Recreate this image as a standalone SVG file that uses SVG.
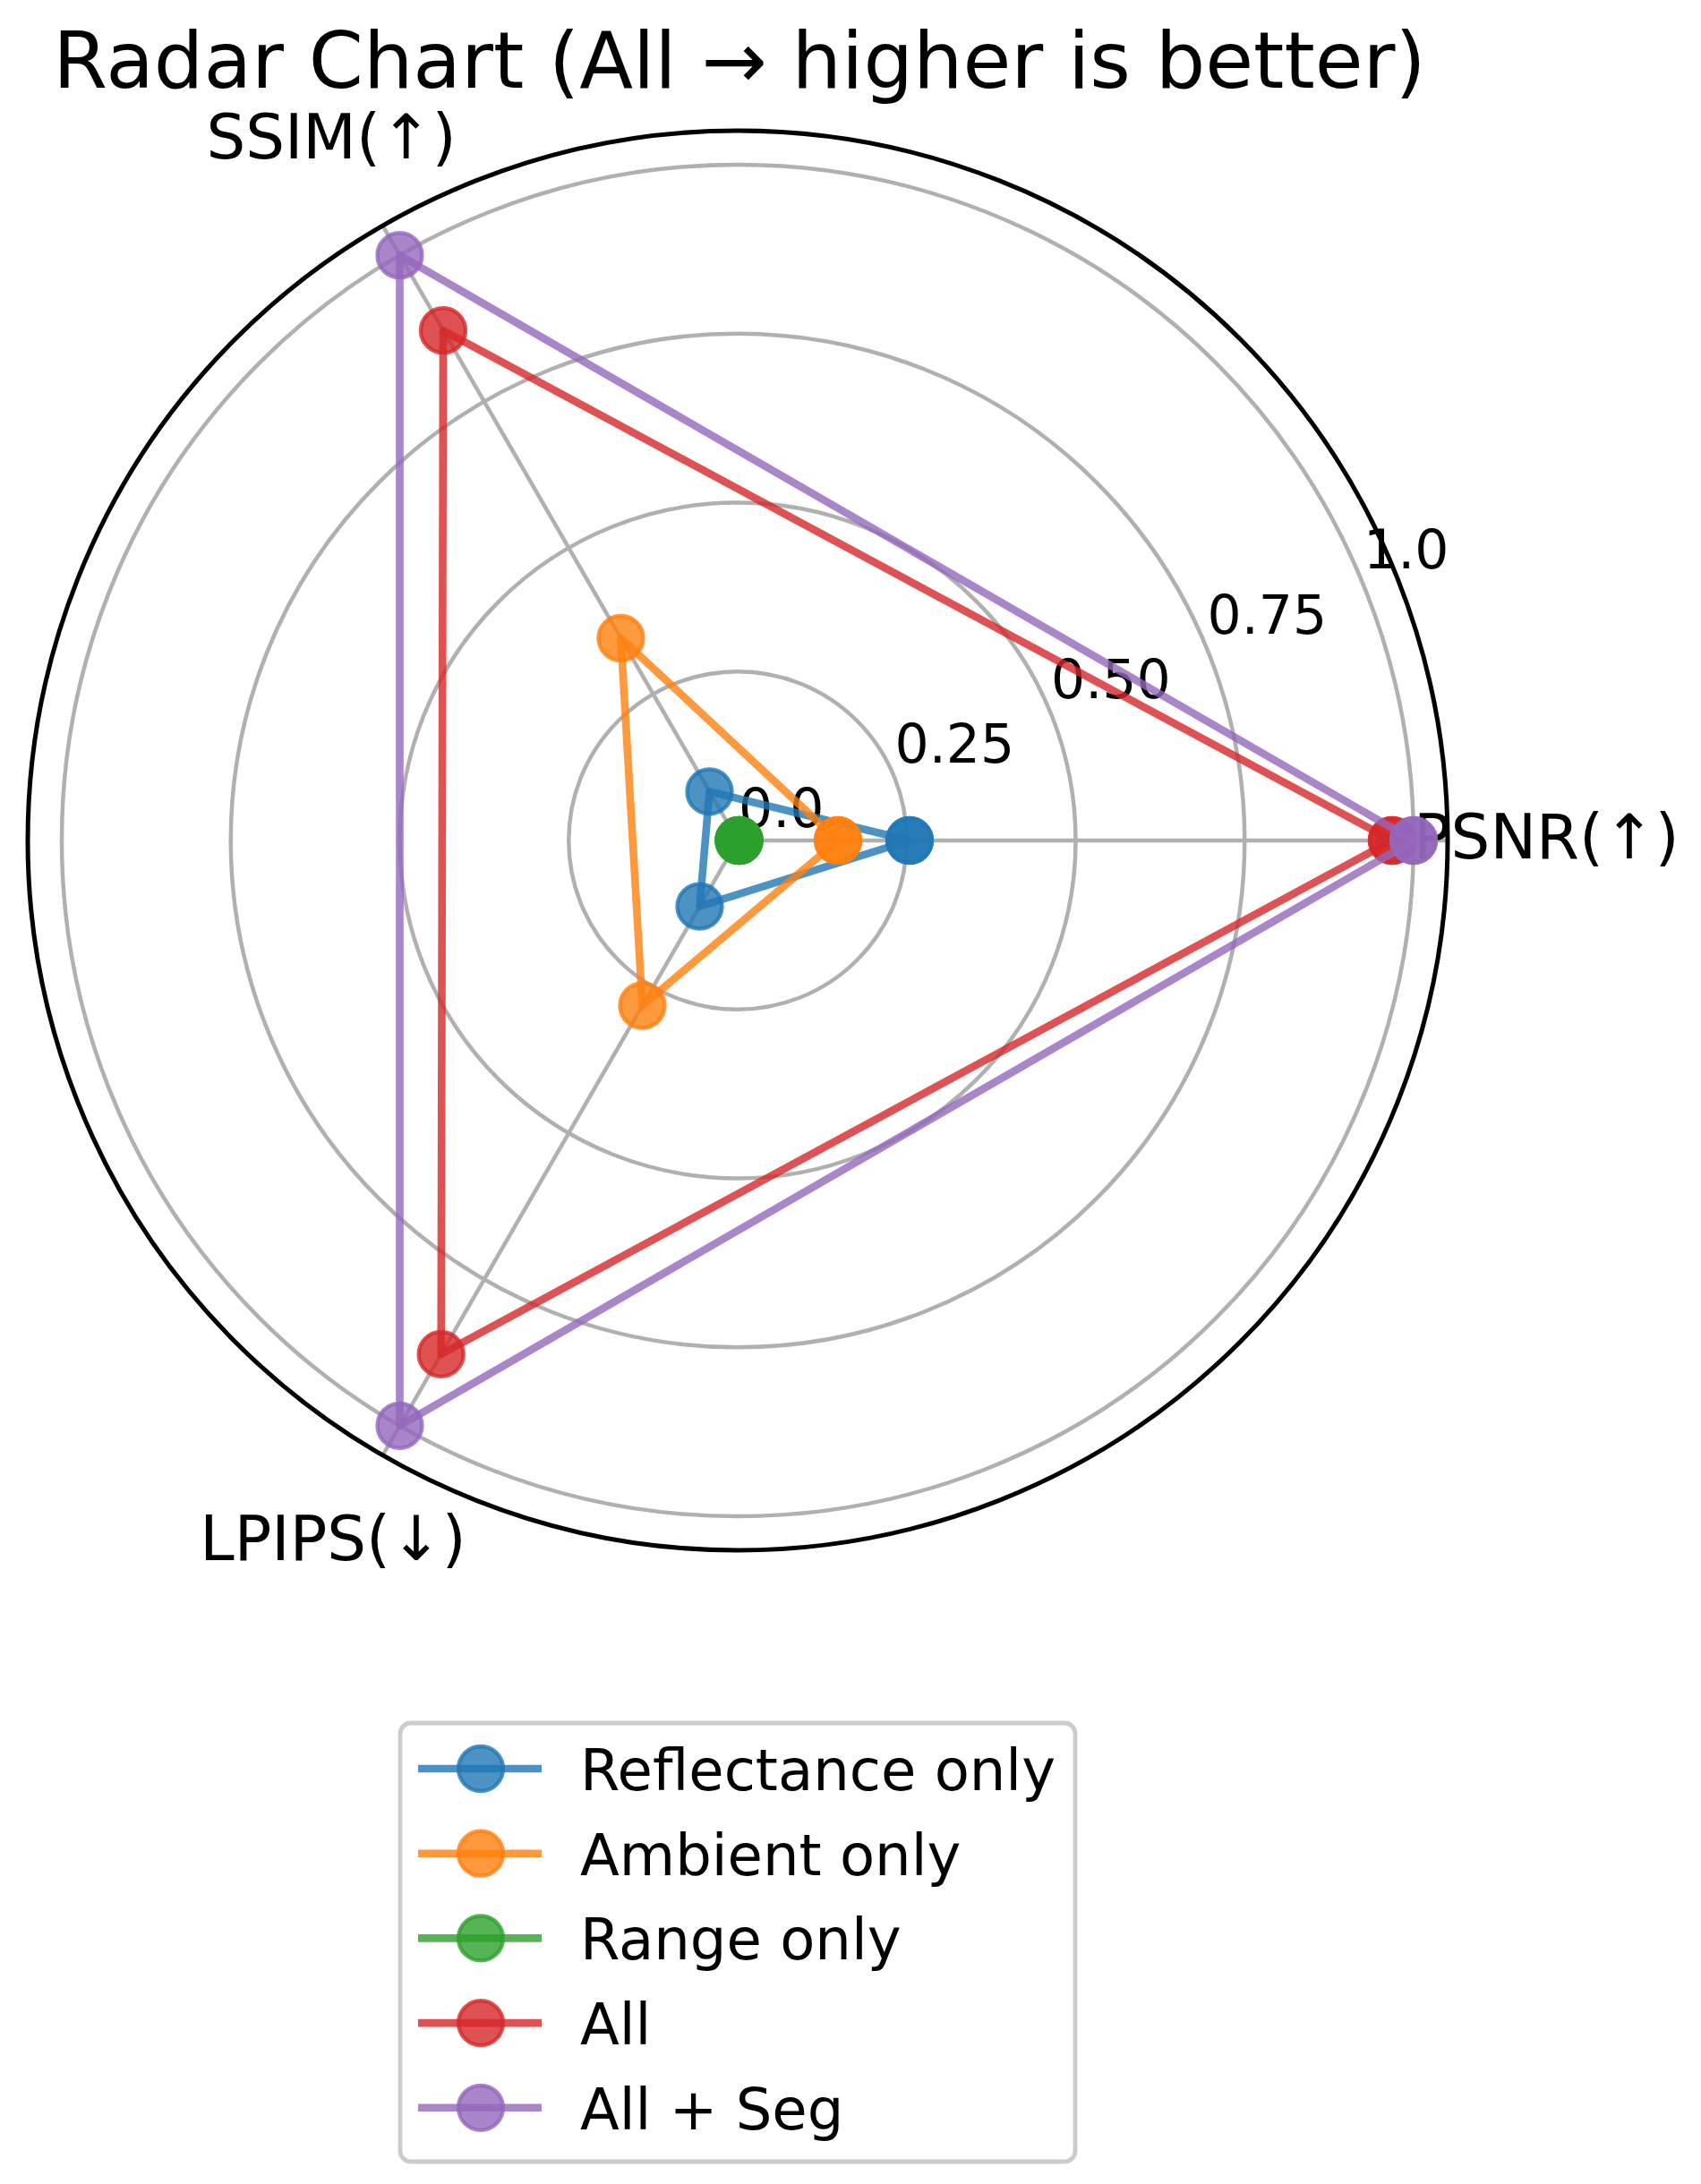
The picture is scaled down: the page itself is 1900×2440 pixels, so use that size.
<svg xmlns="http://www.w3.org/2000/svg" width="1900" height="2440" viewBox="0 0 1900 2440">
<style>
text { font-family: "DejaVu Sans", "Liberation Sans", sans-serif; fill: #000; }
.grid { fill: none; stroke: #b0b0b0; stroke-width: 4.5; }
.spoke { stroke: #b0b0b0; stroke-width: 4.5; }
.rtick { font-size: 60px; }
.axlabel { font-size: 69px; }
.title { font-size: 87.5px; }
.leg { font-size: 64px; }
.ln { fill: none; stroke-width: 8.6; stroke-opacity: 0.8; stroke-linejoin: round; }
.mk { stroke-width: 4.3; fill-opacity: 0.8; stroke-opacity: 0.8; }
.c0 { stroke: #1f77b4; fill: #1f77b4; }
.c1 { stroke: #ff7f0e; fill: #ff7f0e; }
.c2 { stroke: #2ca02c; fill: #2ca02c; }
.c3 { stroke: #d62728; fill: #d62728; }
.c4 { stroke: #9467bd; fill: #9467bd; }
.ln.c0, .ln.c1, .ln.c2, .ln.c3, .ln.c4 { fill: none; }
</style>
<rect x="0" y="0" width="1900" height="2440" fill="#ffffff"/>

<g id="grid">
  <circle class="grid" cx="824" cy="939" r="188.75"/>
  <circle class="grid" cx="824" cy="939" r="377.5"/>
  <circle class="grid" cx="824" cy="939" r="566.25"/>
  <circle class="grid" cx="824" cy="939" r="755"/>
  <line class="spoke" x1="824" y1="939" x2="1617" y2="939"/>
  <line class="spoke" x1="824" y1="939" x2="427.5" y2="252.2"/>
  <line class="spoke" x1="824" y1="939" x2="427.5" y2="1625.8"/>
</g>

<g id="radial-labels">
  <text class="rtick" x="825" y="924">0.0</text>
  <text class="rtick" x="999.5" y="852">0.25</text>
  <text class="rtick" x="1174" y="779.5">0.50</text>
  <text class="rtick" x="1348.5" y="707.5">0.75</text>
  <text class="rtick" x="1523" y="635">1.0</text>
</g>

<g id="axis-labels">
  <text class="axlabel" x="1579" y="959">PSNR(↑)</text>
  <text class="axlabel" x="370" y="177" text-anchor="middle">SSIM(↑)</text>
  <text class="axlabel" x="372" y="1743" text-anchor="middle">LPIPS(↓)</text>
</g>

<g id="connectors">
  <g id="series-reflectance">
    <path class="ln c0" d="M1016,939 L792.5,884.4 L781.5,1012.6 Z"/>
    <circle class="mk c0" cx="1016" cy="939" r="25"/>
    <circle class="mk c0" cx="792.5" cy="884.4" r="25"/>
    <circle class="mk c0" cx="781.5" cy="1012.6" r="25"/>
    <circle class="mk c0" cx="1016" cy="939" r="25"/>
  </g>
  <g id="series-ambient">
    <path class="ln c1" d="M936,939 L693.5,713 L717.5,1123.5 Z"/>
    <circle class="mk c1" cx="936" cy="939" r="25"/>
    <circle class="mk c1" cx="693.5" cy="713" r="25"/>
    <circle class="mk c1" cx="717.5" cy="1123.5" r="25"/>
    <circle class="mk c1" cx="936" cy="939" r="25"/>
  </g>
  <g id="series-range">
    <path class="ln c2" d="M826,939 L825,939 L825,939 Z"/>
    <circle class="mk c2" cx="825.5" cy="939" r="25"/>
    <circle class="mk c2" cx="825.5" cy="939" r="25"/>
    <circle class="mk c2" cx="825.5" cy="939" r="25"/>
    <circle class="mk c2" cx="825.5" cy="939" r="25"/>
  </g>
  <g id="series-all">
    <path class="ln c3" d="M1555,939 L495,369.2 L492.7,1512.9 Z"/>
    <circle class="mk c3" cx="1555" cy="939" r="25"/>
    <circle class="mk c3" cx="495" cy="369.2" r="25"/>
    <circle class="mk c3" cx="492.7" cy="1512.9" r="25"/>
    <circle class="mk c3" cx="1555" cy="939" r="25"/>
  </g>
  <g id="series-all-seg">
    <path class="ln c4" d="M1579,939 L446.5,285.2 L446.5,1592.8 Z"/>
    <circle class="mk c4" cx="1579" cy="939" r="25"/>
    <circle class="mk c4" cx="446.5" cy="285.2" r="25"/>
    <circle class="mk c4" cx="446.5" cy="1592.8" r="25"/>
    <circle class="mk c4" cx="1579" cy="939" r="25"/>
  </g>
</g>

<g id="spine">
  <circle cx="824" cy="939" r="793" fill="none" stroke="#000000" stroke-width="5"/>
</g>

<g id="title">
  <text class="title" x="826" y="98" text-anchor="middle">Radar Chart (All → higher is better)</text>
</g>

<g id="legend">
  <rect x="447" y="1925" width="754" height="490" rx="12" ry="12" fill="#ffffff" fill-opacity="0.8" stroke="#cccccc" stroke-width="4.8"/>
  <g id="legend-reflectance">
    <line class="ln c0" x1="467" y1="1976" x2="605" y2="1976"/>
    <circle class="mk c0" cx="537" cy="1976" r="25"/>
    <text class="leg" x="648" y="2000">Reflectance only</text>
  </g>
  <g id="legend-ambient">
    <line class="ln c1" x1="467" y1="2070.7" x2="605" y2="2070.7"/>
    <circle class="mk c1" cx="537" cy="2070.7" r="25"/>
    <text class="leg" x="648" y="2094.7">Ambient only</text>
  </g>
  <g id="legend-range">
    <line class="ln c2" x1="467" y1="2165.4" x2="605" y2="2165.4"/>
    <circle class="mk c2" cx="537" cy="2165.4" r="25"/>
    <text class="leg" x="648" y="2189.4">Range only</text>
  </g>
  <g id="legend-all">
    <line class="ln c3" x1="467" y1="2260.1" x2="605" y2="2260.1"/>
    <circle class="mk c3" cx="537" cy="2260.1" r="25"/>
    <text class="leg" x="648" y="2284.1">All</text>
  </g>
  <g id="legend-all-seg">
    <line class="ln c4" x1="467" y1="2354.8" x2="605" y2="2354.8"/>
    <circle class="mk c4" cx="537" cy="2354.8" r="25"/>
    <text class="leg" x="648" y="2378.8">All + Seg</text>
  </g>
</g>
</svg>
